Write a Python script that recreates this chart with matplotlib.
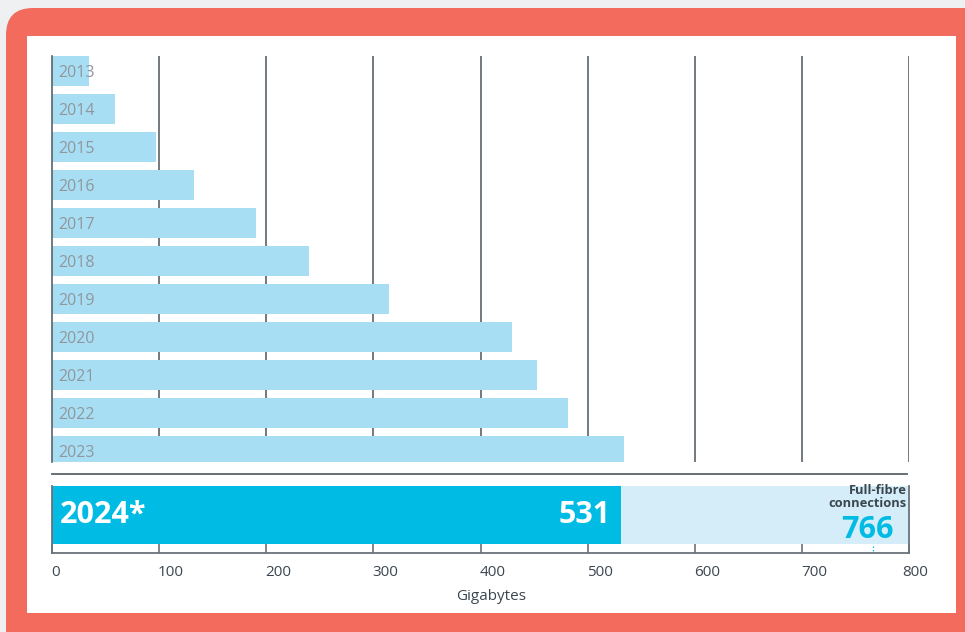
import matplotlib.pyplot as plt
from matplotlib.patches import FancyBboxPatch, Rectangle
from matplotlib.lines import Line2D
import matplotlib.transforms as mtransforms

plt.rcParams['font.family'] = ['Open Sans', 'DejaVu Sans']

# average monthly data use per line, gigabytes
years = ['2013', '2014', '2015', '2016', '2017', '2018', '2019', '2020', '2021', '2022', '2023']
usage = [34.5, 59, 97, 133, 190, 240, 315, 429, 453, 482, 534]
year_2024 = '2024*'
usage_2024 = 531
fibre_2024 = 766
x_ticks = [0, 100, 200, 300, 400, 500, 600, 700, 800]

W, H = 965, 632
light_bar = '#a8def3'
dark_bar = '#00bbe3'
track = '#d4edf8'
coral = '#f26b5c'
grid_col = '#5b636a'
text_col = '#3c4650'


def fx(px):
    return px / W


def fy(py):
    return 1 - py / H


fig = plt.figure(figsize=(W / 100, H / 100), dpi=100)
fig.patch.set_facecolor('#eef0f2')

# coral frame and white panel, kept behind the axes
frame = FancyBboxPatch((fx(6), fy(660)), fx(1000), 652 / H,
                       boxstyle='round,pad=0,rounding_size=0.028',
                       transform=fig.transFigure, facecolor=coral,
                       edgecolor='none', mutation_aspect=W / H, zorder=-2)
fig.patches.append(frame)
fig.patches.append(Rectangle((fx(27), fy(613)), fx(956 - 27), (613 - 36) / H,
                             transform=fig.transFigure, facecolor='white',
                             edgecolor='none', zorder=-1))

# upper chart: 2013-2023, rows 38 px apart, last row cut by the axes edge
top_px, bot_px, row_px, bar_px = 56, 462, 38, 30
ax = fig.add_axes([fx(52), fy(bot_px), fx(909 - 52), (bot_px - top_px) / H])
ax.set_facecolor('none')
pos = list(range(len(years)))
ax.barh(pos, usage, height=bar_px / row_px, color=light_bar, zorder=2)
for g in x_ticks[1:]:
    ax.axvline(g, color=grid_col, lw=1.2, zorder=1)
ax.set_xlim(0, 800)
y_top = -bar_px / 2 / row_px
ax.set_ylim(y_top + (bot_px - top_px) / row_px, y_top)
for s in ['top', 'right', 'bottom']:
    ax.spines[s].set_visible(False)
ax.spines['left'].set_color(grid_col)
ax.spines['left'].set_linewidth(1.2)
ax.spines['left'].set_zorder(3)
ax.set_xticks([])
ax.set_yticks([])
for p, y in zip(pos, years):
    ax.text(6, p + 0.05, y, ha='left', va='center', fontsize=11.5,
            color='#8f979e', zorder=4)

# separator line
fig.add_artist(Line2D([fx(52), fx(907)], [fy(474), fy(474)],
                      color=grid_col, lw=1.3, transform=fig.transFigure))

# lower chart: 2024 estimate
ax2 = fig.add_axes([fx(52), fy(553), fx(909 - 52), (553 - 486) / H])
ax2.set_facecolor('none')
ax2.barh(0, 800, height=1, color=track, zorder=1)
ax2.barh(0, usage_2024, height=1, color=dark_bar, zorder=2)
ax2.plot([fibre_2024, fibre_2024], [-0.53, -0.655], color=dark_bar,
         lw=1, ls=(0, (1, 1.5)), zorder=3, clip_on=False)
ax2.set_xlim(0, 800)
ax2.set_ylim(-0.5 - 9 / 58, 0.5)
ax2.spines['top'].set_visible(False)
for s in ['left', 'right', 'bottom']:
    ax2.spines[s].set_color('#6b7279')
    ax2.spines[s].set_linewidth(1.3)
ax2.set_yticks([])
ax2.set_xticks(x_ticks)
ax2.set_xticklabels([str(t) for t in x_ticks])
ax2.tick_params(axis='x', direction='in', length=6.5, width=1.2,
                color='#6b7279', labelsize=11, labelcolor=text_col, pad=9)
for i, lab in enumerate(ax2.get_xticklabels()):
    lab.set_horizontalalignment('left')
    dx = -7 if i == len(x_ticks) - 1 else -1
    lab.set_transform(lab.get_transform() +
                      mtransforms.ScaledTranslation(dx / 100, 0, fig.dpi_scale_trans))

ax2.text(7, 0, year_2024, ha='left', va='center', fontsize=22,
         fontweight='bold', color='white', zorder=4)
ax2.text(usage_2024 - 10, 0, str(usage_2024), ha='right', va='center',
         fontsize=22, fontweight='bold', color='white', zorder=4)
ax2.text(798, 0.31, 'Full-fibre\nconnections', ha='right', va='center',
         fontsize=9.3, fontweight='bold', color=text_col, linespacing=1.0,
         zorder=4)
ax2.text(786, -0.26, str(fibre_2024), ha='right', va='center', fontsize=22,
         fontweight='bold', color=dark_bar, zorder=4)

fig.text(fx(491), fy(596), 'Gigabytes', ha='center', va='center',
         fontsize=11, color=text_col)

fig.savefig('out.png', dpi=100, facecolor=fig.get_facecolor())
